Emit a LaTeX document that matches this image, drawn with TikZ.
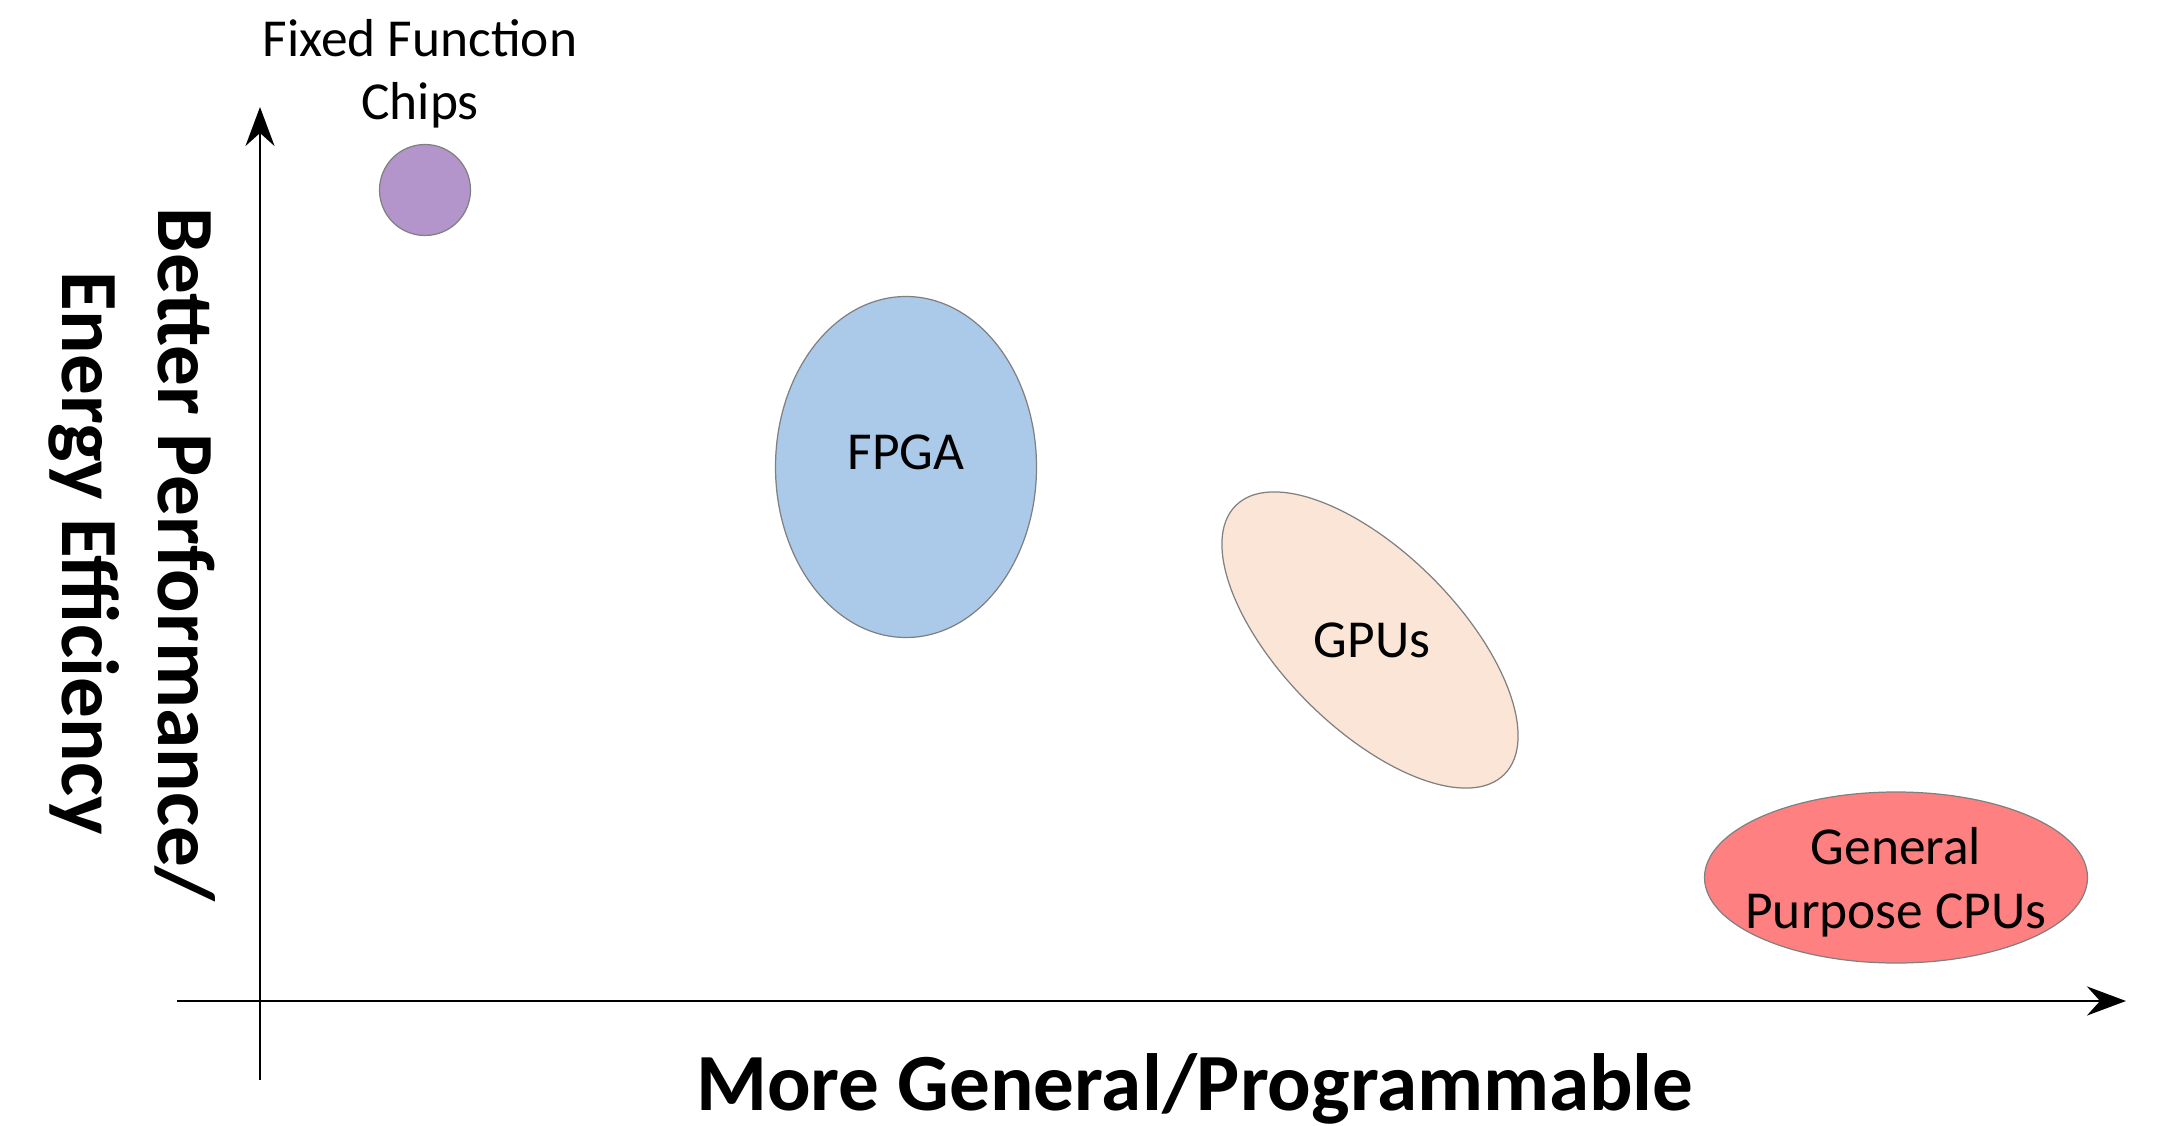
\documentclass[tikz,border=0pt]{standalone}
\usepackage{fontspec}
\setmainfont{Carlito}
\usepackage{tikz}
\usetikzlibrary{shapes.geometric, arrows.meta}

\definecolor{chippurple}{RGB}{179,148,203}
\definecolor{fpgablue}{RGB}{171,202,234}
\definecolor{gpupeach}{RGB}{251,229,214}
\definecolor{cpured}{RGB}{255,128,128}

\tikzset{
  axis/.style={draw=black, line width=0.8pt, -{Stealth[length=3.9mm, width=2.9mm, inset=1.3mm]}},
  blob/.style={ellipse, draw=black!50, line width=0.35pt, inner sep=0pt},
  lbl/.style={font=\fontsize{15.2}{17.8}\selectfont, align=center, inner sep=0pt},
  axislbl/.style={font=\fontsize{23.1}{27}\selectfont\bfseries, inner sep=0pt, anchor=base}
}

\begin{document}
\begin{tikzpicture}
\useasboundingbox (0,0) rectangle (21.62,11.25);

\coordinate (ybot) at (2.60,0.45);
\coordinate (ytop) at (2.60,10.18);
\coordinate (xleft) at (1.77,1.24);
\coordinate (xright) at (21.26,1.24);
\draw[axis] (ybot) -- (ytop);
\draw[axis] (xleft) -- (xright);

\node[axislbl] (xlab) at (11.95,0.15) {More General/Programmable};
\node[axislbl, rotate=-90] (ylab1) at (1.58,5.70) {Better Performance/};
\node[axislbl, rotate=-90] (ylab2) at (0.62,5.72) {Energy Efficiency};

\node[blob, circle, fill=chippurple, minimum size=0.91cm] (chip) at (4.25,9.35) {};
\node[lbl] (chiptxt) at (4.20,10.51) {Fixed Function\\Chips};

\node[blob, fill=fpgablue, minimum width=2.61cm, minimum height=3.41cm] (fpga) at (9.06,6.58) {};
\node[lbl] (fpgatxt) at (9.06,6.73) {FPGA};

\node[blob, fill=gpupeach, rotate=-45, minimum width=3.80cm, minimum height=1.76cm] (gpu) at (13.70,4.85) {};
\node[lbl] (gputxt) at (13.72,4.85) {GPUs};

\node[blob, fill=cpured, minimum width=3.83cm, minimum height=1.71cm] (cpu) at (18.96,2.475) {};
\node[lbl, font=\fontsize{15.2}{18.2}\selectfont] (cputxt) at (18.96,2.43) {General\\Purpose CPUs};
\end{tikzpicture}
\end{document}
